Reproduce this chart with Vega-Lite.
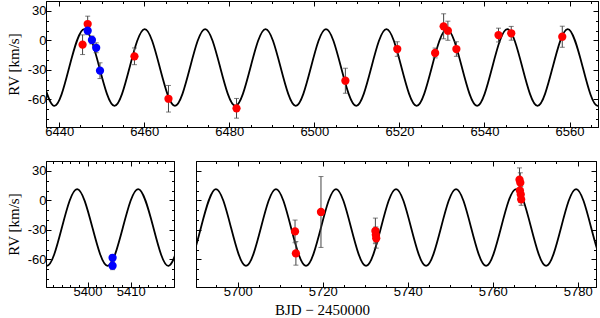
{
  "$schema": "https://vega.github.io/schema/vega-lite/v6.json",
  "background": "white",
  "padding": {"left": 5, "top": 0, "right": 0, "bottom": 0},
  "config": {
    "view": {"stroke": "black", "strokeWidth": 1},
    "axis": {"domainColor": "black", "domainWidth": 1, "tickColor": "black", "tickWidth": 1, "labelColor": "black", "labelFont": "Liberation Sans", "labelFontSize": 13, "labelPadding": 3, "titleFont": "Liberation Serif", "titleFontSize": 15, "titleFontWeight": "normal", "titleColor": "black", "grid": false, "labelOverlap": false, "labelFlush": false},
    "axisY": {"labelPadding": 5, "titlePadding": 6}
  },
  "datasets": {
    "curve": [
      {"p": "top", "day": 6431.69, "rv": 11.5}, {"p": "top", "day": 6435.24, "rv": -27.5}, {"p": "top", "day": 6438.80, "rv": -66.5}, {"p": "top", "day": 6442.35, "rv": -27.5},
      {"p": "top", "day": 6445.90, "rv": 11.5}, {"p": "top", "day": 6449.45, "rv": -27.5}, {"p": "top", "day": 6453.01, "rv": -66.5}, {"p": "top", "day": 6456.56, "rv": -27.5},
      {"p": "top", "day": 6460.11, "rv": 11.5}, {"p": "top", "day": 6463.66, "rv": -27.5}, {"p": "top", "day": 6467.22, "rv": -66.5}, {"p": "top", "day": 6470.77, "rv": -27.5},
      {"p": "top", "day": 6474.32, "rv": 11.5}, {"p": "top", "day": 6477.87, "rv": -27.5}, {"p": "top", "day": 6481.43, "rv": -66.5}, {"p": "top", "day": 6484.98, "rv": -27.5},
      {"p": "top", "day": 6488.53, "rv": 11.5}, {"p": "top", "day": 6492.08, "rv": -27.5}, {"p": "top", "day": 6495.64, "rv": -66.5}, {"p": "top", "day": 6499.19, "rv": -27.5},
      {"p": "top", "day": 6502.74, "rv": 11.5}, {"p": "top", "day": 6506.29, "rv": -27.5}, {"p": "top", "day": 6509.85, "rv": -66.5}, {"p": "top", "day": 6513.40, "rv": -27.5},
      {"p": "top", "day": 6516.95, "rv": 11.5}, {"p": "top", "day": 6520.50, "rv": -27.5}, {"p": "top", "day": 6524.06, "rv": -66.5}, {"p": "top", "day": 6527.61, "rv": -27.5},
      {"p": "top", "day": 6531.16, "rv": 11.5}, {"p": "top", "day": 6534.71, "rv": -27.5}, {"p": "top", "day": 6538.27, "rv": -66.5}, {"p": "top", "day": 6541.82, "rv": -27.5},
      {"p": "top", "day": 6545.37, "rv": 11.5}, {"p": "top", "day": 6548.92, "rv": -27.5}, {"p": "top", "day": 6552.48, "rv": -66.5}, {"p": "top", "day": 6556.03, "rv": -27.5},
      {"p": "top", "day": 6559.58, "rv": 11.5}, {"p": "top", "day": 6563.13, "rv": -27.5}, {"p": "top", "day": 6566.69, "rv": -66.5}, {"p": "top", "day": 6570.24, "rv": -27.5},
      {"p": "top", "day": 6573.79, "rv": 11.5},
      {"p": "bl", "day": 5383.50, "rv": 11.5}, {"p": "bl", "day": 5387.03, "rv": -27.5}, {"p": "bl", "day": 5390.55, "rv": -66.5}, {"p": "bl", "day": 5394.08, "rv": -27.5},
      {"p": "bl", "day": 5397.60, "rv": 11.5}, {"p": "bl", "day": 5401.13, "rv": -27.5}, {"p": "bl", "day": 5404.65, "rv": -66.5}, {"p": "bl", "day": 5408.18, "rv": -27.5},
      {"p": "bl", "day": 5411.70, "rv": 11.5}, {"p": "bl", "day": 5415.23, "rv": -27.5}, {"p": "bl", "day": 5418.75, "rv": -66.5}, {"p": "bl", "day": 5422.28, "rv": -27.5},
      {"p": "bl", "day": 5425.80, "rv": 11.5},
      {"p": "br", "day": 5680.78, "rv": 11.5}, {"p": "br", "day": 5684.31, "rv": -27.5}, {"p": "br", "day": 5687.84, "rv": -66.5}, {"p": "br", "day": 5691.37, "rv": -27.5},
      {"p": "br", "day": 5694.90, "rv": 11.5}, {"p": "br", "day": 5698.43, "rv": -27.5}, {"p": "br", "day": 5701.96, "rv": -66.5}, {"p": "br", "day": 5705.49, "rv": -27.5},
      {"p": "br", "day": 5709.02, "rv": 11.5}, {"p": "br", "day": 5712.55, "rv": -27.5}, {"p": "br", "day": 5716.08, "rv": -66.5}, {"p": "br", "day": 5719.61, "rv": -27.5},
      {"p": "br", "day": 5723.14, "rv": 11.5}, {"p": "br", "day": 5726.67, "rv": -27.5}, {"p": "br", "day": 5730.20, "rv": -66.5}, {"p": "br", "day": 5733.73, "rv": -27.5},
      {"p": "br", "day": 5737.26, "rv": 11.5}, {"p": "br", "day": 5740.79, "rv": -27.5}, {"p": "br", "day": 5744.32, "rv": -66.5}, {"p": "br", "day": 5747.85, "rv": -27.5},
      {"p": "br", "day": 5751.38, "rv": 11.5}, {"p": "br", "day": 5754.91, "rv": -27.5}, {"p": "br", "day": 5758.44, "rv": -66.5}, {"p": "br", "day": 5761.97, "rv": -27.5},
      {"p": "br", "day": 5765.50, "rv": 11.5}, {"p": "br", "day": 5769.03, "rv": -27.5}, {"p": "br", "day": 5772.56, "rv": -66.5}, {"p": "br", "day": 5776.09, "rv": -27.5},
      {"p": "br", "day": 5779.62, "rv": 11.5}, {"p": "br", "day": 5783.15, "rv": -27.5}, {"p": "br", "day": 5786.68, "rv": -66.5}, {"p": "br", "day": 5790.21, "rv": -27.5}
    ],
    "pts": [
      {"p": "top", "inst": "s1", "day": 6445.5, "rv": -4.4, "err": 10},
      {"p": "top", "inst": "s1", "day": 6446.7, "rv": 16.6, "err": 8},
      {"p": "top", "inst": "s1", "day": 6457.7, "rv": -16.2, "err": 8.5},
      {"p": "top", "inst": "s1", "day": 6465.7, "rv": -59.3, "err": 13.5},
      {"p": "top", "inst": "s1", "day": 6481.7, "rv": -69, "err": 10},
      {"p": "top", "inst": "s1", "day": 6507.3, "rv": -41, "err": 12.7},
      {"p": "top", "inst": "s1", "day": 6519.5, "rv": -8.8, "err": 7.4},
      {"p": "top", "inst": "s1", "day": 6528.4, "rv": -12.8, "err": 5},
      {"p": "top", "inst": "s1", "day": 6530.4, "rv": 14.3, "err": 12.7},
      {"p": "top", "inst": "s1", "day": 6531.4, "rv": 9.8, "err": 9.7},
      {"p": "top", "inst": "s1", "day": 6533.4, "rv": -8.8, "err": 7.4},
      {"p": "top", "inst": "s1", "day": 6543.3, "rv": 5.4, "err": 7},
      {"p": "top", "inst": "s1", "day": 6546.3, "rv": 7.2, "err": 7},
      {"p": "top", "inst": "s1", "day": 6558.3, "rv": 3.7, "err": 10.7},
      {"p": "top", "inst": "s2", "day": 6446.7, "rv": 9.8, "err": 4},
      {"p": "top", "inst": "s2", "day": 6447.7, "rv": 0.4, "err": 4},
      {"p": "top", "inst": "s2", "day": 6448.7, "rv": -7.5, "err": 5},
      {"p": "top", "inst": "s2", "day": 6449.6, "rv": -30.8, "err": 8},
      {"p": "bl", "inst": "s2", "day": 5405.8, "rv": -58.3, "err": 3},
      {"p": "bl", "inst": "s2", "day": 5405.8, "rv": -66.4, "err": 4},
      {"p": "br", "inst": "s1", "day": 5713.5, "rv": -31.5, "err": 11.5},
      {"p": "br", "inst": "s1", "day": 5713.7, "rv": -53.8, "err": 12},
      {"p": "br", "inst": "s1", "day": 5719.6, "rv": -11.8, "err": 36},
      {"p": "br", "inst": "s1", "day": 5732.4, "rv": -31, "err": 13},
      {"p": "br", "inst": "s1", "day": 5732.5, "rv": -35, "err": 8},
      {"p": "br", "inst": "s1", "day": 5732.6, "rv": -38.5, "err": 10},
      {"p": "br", "inst": "s1", "day": 5766.3, "rv": 21, "err": 12},
      {"p": "br", "inst": "s1", "day": 5766.5, "rv": 18, "err": 10},
      {"p": "br", "inst": "s1", "day": 5766.4, "rv": 10, "err": 8},
      {"p": "br", "inst": "s1", "day": 5766.6, "rv": 6, "err": 8},
      {"p": "br", "inst": "s1", "day": 5766.7, "rv": 1, "err": 6}
    ]
  },
  "bounds": "flush",
  "spacing": 34,
  "vconcat": [
    {
      "width": 552, "height": 126,
      "resolve": {"axis": {"x": "independent", "y": "independent"}},
      "layer": [
        {
          "data": {"name": "curve"}, "transform": [{"filter": "datum.p == 'top'"}],
          "mark": {"type": "line", "interpolate": "natural", "color": "black", "strokeWidth": 1.8, "clip": true},
          "encoding": {
            "x": {"field": "day", "type": "quantitative", "scale": {"domain": [6436.9, 6566.7], "nice": false, "zero": false},
              "axis": {"orient": "bottom", "title": null, "values": [6440,6445,6450,6455,6460,6465,6470,6475,6480,6485,6490,6495,6500,6505,6510,6515,6520,6525,6530,6535,6540,6545,6550,6555,6560,6565],
                "labelExpr": "datum.value % 20 == 0 ? '' + datum.value : ''",
                "tickSize": {"condition": {"test": "datum.value % 20 == 0", "value": -5}, "value": -2.5}}},
            "y": {"field": "rv", "type": "quantitative", "scale": {"domain": [-88, 40], "nice": false, "zero": false},
              "axis": {"orient": "left", "title": "RV [km/s]", "values": [-80,-70,-60,-50,-40,-30,-20,-10,0,10,20,30],
                "labelExpr": "datum.value % 30 == 0 ? '' + datum.value : ''",
                "tickSize": {"condition": {"test": "datum.value % 30 == 0", "value": -5}, "value": -2.5}}}
          }
        },
        {
          "data": {"name": "pts"}, "transform": [{"filter": "datum.p == 'top'"}],
          "mark": {"type": "errorbar", "ticks": true, "size": 5, "thickness": 1, "color": "#444444"},
          "encoding": {
            "x": {"field": "day", "type": "quantitative", "scale": {"domain": [6436.9, 6566.7], "nice": false, "zero": false}, "axis": null},
            "y": {"field": "rv", "type": "quantitative", "scale": {"domain": [-88, 40], "nice": false, "zero": false}, "axis": null},
            "yError": {"field": "err"}
          }
        },
        {
          "data": {"name": "pts"}, "transform": [{"filter": "datum.p == 'top'"}],
          "mark": {"type": "circle", "size": 68, "opacity": 1},
          "encoding": {
            "x": {"field": "day", "type": "quantitative", "scale": {"domain": [6436.9, 6566.7], "nice": false, "zero": false},
              "axis": {"orient": "top", "title": null, "labels": false, "values": [6440,6445,6450,6455,6460,6465,6470,6475,6480,6485,6490,6495,6500,6505,6510,6515,6520,6525,6530,6535,6540,6545,6550,6555,6560,6565],
                "tickSize": {"condition": {"test": "datum.value % 20 == 0", "value": -5}, "value": -2.5}}},
            "y": {"field": "rv", "type": "quantitative", "scale": {"domain": [-88, 40], "nice": false, "zero": false},
              "axis": {"orient": "right", "title": null, "labels": false, "values": [-80,-70,-60,-50,-40,-30,-20,-10,0,10,20,30],
                "tickSize": {"condition": {"test": "datum.value % 30 == 0", "value": -5}, "value": -2.5}}},
            "color": {"field": "inst", "type": "nominal", "scale": {"domain": ["s1", "s2"], "range": ["#ff0000", "#0000ff"]}, "legend": null}
          }
        }
      ]
    },
    {
      "bounds": "flush",
      "spacing": 22,
      "hconcat": [
        {
          "width": 128, "height": 126,
          "resolve": {"axis": {"x": "independent", "y": "independent"}},
          "layer": [
            {
              "data": {"name": "curve"}, "transform": [{"filter": "datum.p == 'bl'"}],
              "mark": {"type": "line", "interpolate": "natural", "color": "black", "strokeWidth": 1.8, "clip": true},
              "encoding": {
                "x": {"field": "day", "type": "quantitative", "scale": {"domain": [5390.4, 5420], "nice": false, "zero": false},
                  "axis": {"orient": "bottom", "title": null, "values": [5392,5394,5396,5398,5400,5402,5404,5406,5408,5410,5412,5414,5416,5418],
                    "labelExpr": "datum.value % 10 == 0 ? '' + datum.value : ''",
                    "tickSize": {"condition": {"test": "datum.value % 10 == 0", "value": -5}, "value": -2.5}}},
                "y": {"field": "rv", "type": "quantitative", "scale": {"domain": [-88, 40], "nice": false, "zero": false},
                  "axis": {"orient": "left", "title": "RV [km/s]", "values": [-80,-70,-60,-50,-40,-30,-20,-10,0,10,20,30],
                    "labelExpr": "datum.value % 30 == 0 ? '' + datum.value : ''",
                    "tickSize": {"condition": {"test": "datum.value % 30 == 0", "value": -5}, "value": -2.5}}}
              }
            },
            {
              "data": {"name": "pts"}, "transform": [{"filter": "datum.p == 'bl'"}],
              "mark": {"type": "errorbar", "ticks": true, "size": 5, "thickness": 1, "color": "#444444"},
              "encoding": {
                "x": {"field": "day", "type": "quantitative", "scale": {"domain": [5390.4, 5420], "nice": false, "zero": false}, "axis": null},
                "y": {"field": "rv", "type": "quantitative", "scale": {"domain": [-88, 40], "nice": false, "zero": false}, "axis": null},
                "yError": {"field": "err"}
              }
            },
            {
              "data": {"name": "pts"}, "transform": [{"filter": "datum.p == 'bl'"}],
              "mark": {"type": "circle", "size": 68, "opacity": 1},
              "encoding": {
                "x": {"field": "day", "type": "quantitative", "scale": {"domain": [5390.4, 5420], "nice": false, "zero": false},
                  "axis": {"orient": "top", "title": null, "labels": false, "values": [5392,5394,5396,5398,5400,5402,5404,5406,5408,5410,5412,5414,5416,5418],
                    "tickSize": {"condition": {"test": "datum.value % 10 == 0", "value": -5}, "value": -2.5}}},
                "y": {"field": "rv", "type": "quantitative", "scale": {"domain": [-88, 40], "nice": false, "zero": false},
                  "axis": {"orient": "right", "title": null, "labels": false, "values": [-80,-70,-60,-50,-40,-30,-20,-10,0,10,20,30],
                    "tickSize": {"condition": {"test": "datum.value % 30 == 0", "value": -5}, "value": -2.5}}},
                "color": {"field": "inst", "type": "nominal", "scale": {"domain": ["s1", "s2"], "range": ["#ff0000", "#0000ff"]}, "legend": null}
              }
            }
          ]
        },
        {
          "width": 400, "height": 126,
          "resolve": {"axis": {"x": "independent", "y": "independent"}},
          "layer": [
            {
              "data": {"name": "curve"}, "transform": [{"filter": "datum.p == 'br'"}],
              "mark": {"type": "line", "interpolate": "natural", "color": "black", "strokeWidth": 1.8, "clip": true},
              "encoding": {
                "x": {"field": "day", "type": "quantitative", "scale": {"domain": [5690.2, 5784.3], "nice": false, "zero": false},
                  "axis": {"orient": "bottom", "title": "BJD − 2450000", "titleX": 126, "titleY": 27, "titleBaseline": "alphabetic", "titleAlign": "center",
                    "values": [5695,5700,5705,5710,5715,5720,5725,5730,5735,5740,5745,5750,5755,5760,5765,5770,5775,5780],
                    "labelExpr": "datum.value % 20 == 0 ? '' + datum.value : ''",
                    "tickSize": {"condition": {"test": "datum.value % 20 == 0", "value": -5}, "value": -2.5}}},
                "y": {"field": "rv", "type": "quantitative", "scale": {"domain": [-88, 40], "nice": false, "zero": false},
                  "axis": {"orient": "left", "title": null, "labels": false, "values": [-80,-70,-60,-50,-40,-30,-20,-10,0,10,20,30],
                    "tickSize": {"condition": {"test": "datum.value % 30 == 0", "value": -5}, "value": -2.5}}}
              }
            },
            {
              "data": {"name": "pts"}, "transform": [{"filter": "datum.p == 'br'"}],
              "mark": {"type": "errorbar", "ticks": true, "size": 5, "thickness": 1, "color": "#444444"},
              "encoding": {
                "x": {"field": "day", "type": "quantitative", "scale": {"domain": [5690.2, 5784.3], "nice": false, "zero": false}, "axis": null},
                "y": {"field": "rv", "type": "quantitative", "scale": {"domain": [-88, 40], "nice": false, "zero": false}, "axis": null},
                "yError": {"field": "err"}
              }
            },
            {
              "data": {"name": "pts"}, "transform": [{"filter": "datum.p == 'br'"}],
              "mark": {"type": "circle", "size": 68, "opacity": 1},
              "encoding": {
                "x": {"field": "day", "type": "quantitative", "scale": {"domain": [5690.2, 5784.3], "nice": false, "zero": false},
                  "axis": {"orient": "top", "title": null, "labels": false, "values": [5695,5700,5705,5710,5715,5720,5725,5730,5735,5740,5745,5750,5755,5760,5765,5770,5775,5780],
                    "tickSize": {"condition": {"test": "datum.value % 20 == 0", "value": -5}, "value": -2.5}}},
                "y": {"field": "rv", "type": "quantitative", "scale": {"domain": [-88, 40], "nice": false, "zero": false},
                  "axis": {"orient": "right", "title": null, "labels": false, "values": [-80,-70,-60,-50,-40,-30,-20,-10,0,10,20,30],
                    "tickSize": {"condition": {"test": "datum.value % 30 == 0", "value": -5}, "value": -2.5}}},
                "color": {"field": "inst", "type": "nominal", "scale": {"domain": ["s1", "s2"], "range": ["#ff0000", "#0000ff"]}, "legend": null}
              }
            }
          ]
        }
      ]
    }
  ]
}
